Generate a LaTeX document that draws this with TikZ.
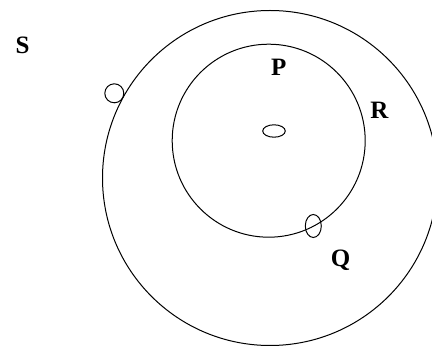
\documentclass[tikz,border=0pt]{standalone}
\usepackage{fontspec}
\setmainfont{Liberation Serif}
\usepackage{tikz}
\usetikzlibrary{shapes.geometric}

\begin{document}
\begin{tikzpicture}[x=1pt, y=-1pt,
    ring/.style={draw, circle, line width=1pt, inner sep=0pt},
    hole/.style={draw, ellipse, line width=1pt, inner sep=0pt},
    lbl/.style={anchor=base, inner sep=0pt, font=\bfseries\fontsize{25pt}{30pt}\selectfont}]
  \useasboundingbox (0,0) rectangle (432,347);
  \clip (0,0) rectangle (432,347);

  \node[ring, minimum size=335pt] (outer) at (270,178) {};
  \node[ring, minimum size=193pt] (inner) at (268.7,140.7) {};
  \node[hole, minimum width=22.6pt, minimum height=12.4pt] (pit) at (274,131) {};
  \node[hole, minimum width=19pt, minimum height=19pt] (sgate) at (114.3,93.3) {};
  \node[hole, minimum width=16pt, minimum height=23pt] (qgate) at (313.3,226) {};

  \node[lbl] (s) at (22.5,54) {S};
  \node[lbl] (p) at (278.7,75.7) {P};
  \node[lbl] (r) at (379.3,119) {R};
  \node[lbl] (q) at (340.7,267) {Q};
\end{tikzpicture}
\end{document}
